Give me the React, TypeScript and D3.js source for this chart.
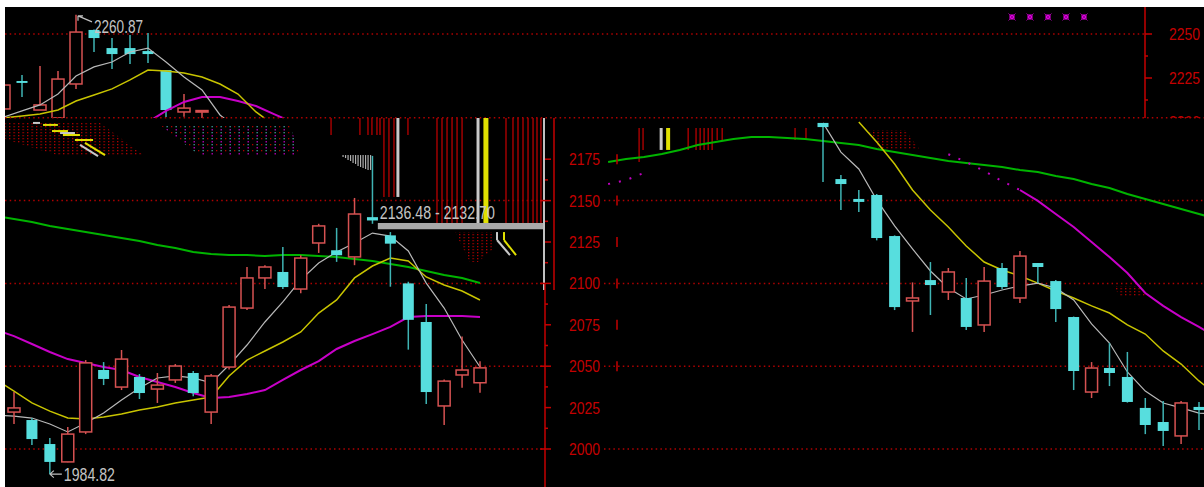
import React from "react";
import * as d3 from "d3";

type OHLC = [number, number, number, number]; // open, high, low, close
type Val = number | null;

// ---------- lower-left panel (slots 0..26) ----------
const leftCandles: OHLC[] = [
  [2022.3, 2034.4, 2015.1, 2024.8],
  [2017.5, 2018.7, 2002.4, 2006.0],
  [2003.0, 2006.6, 1984.82, 1992.2],
  [1992.2, 2013.3, 1992.0, 2009.0],
  [2010.3, 2053.7, 2009.0, 2052.0],
  [2047.7, 2052.5, 2038.6, 2042.3],
  [2037.4, 2059.8, 2035.6, 2054.3],
  [2043.5, 2045.3, 2030.2, 2033.8],
  [2036.2, 2045.9, 2027.8, 2038.6],
  [2041.7, 2051.3, 2039.9, 2050.1],
  [2045.9, 2047.1, 2031.9, 2033.8],
  [2022.3, 2045.3, 2015.1, 2044.1],
  [2049.5, 2087.0, 2048.0, 2085.7],
  [2085.1, 2109.9, 2083.9, 2103.3],
  [2103.3, 2111.0, 2096.6, 2109.9],
  [2106.9, 2122.0, 2096.6, 2097.8],
  [2096.6, 2117.0, 2094.0, 2115.3],
  [2124.4, 2136.0, 2118.4, 2134.7],
  [2120.0, 2133.5, 2113.0, 2117.0],
  [2116.0, 2151.6, 2111.0, 2141.9],
  [2140.0, 2177.0, 2136.0, 2138.0],
  [2129.0, 2131.0, 2098.0, 2124.0],
  [2100.0, 2101.0, 2060.0, 2078.0],
  [2076.7, 2087.6, 2027.2, 2034.4],
  [2026.0, 2042.0, 2014.5, 2041.0],
  [2044.7, 2068.0, 2037.0, 2047.7],
  [2040.0, 2053.0, 2034.0, 2049.0],
];
// moving averages, slots -1..26
const leftMA5 = [2020.5, 2019.9, 2018.7, 2015.1, 2010.3, 2015.7, 2021.7, 2029.6, 2036.8, 2042.9, 2044.1, 2042.9, 2039.9, 2050.7, 2062.8, 2076.7, 2088.8, 2102.1, 2112.3, 2119.0, 2124.4, 2130.4, 2128.6, 2119.6, 2100.2, 2085.1, 2065.8, 2049.5];
const leftMA10 = [2041.7, 2035.0, 2027.8, 2022.9, 2018.7, 2018.1, 2019.3, 2021.1, 2023.6, 2025.4, 2027.8, 2029.6, 2031.4, 2044.1, 2053.7, 2059.2, 2064.6, 2070.7, 2082.1, 2090.0, 2103.3, 2110.5, 2115.3, 2113.5, 2103.9, 2099.0, 2095.4, 2090.0];
const leftMA20 = [2071.9, 2068.2, 2063.4, 2058.6, 2054.3, 2051.9, 2049.5, 2047.7, 2043.5, 2040.5, 2037.4, 2033.8, 2030.8, 2031.4, 2033.2, 2035.6, 2041.7, 2047.7, 2053.1, 2060.4, 2065.2, 2069.4, 2073.7, 2079.7, 2080.3, 2080.3, 2080.3, 2079.7];
const leftMA60 = [2140.7, 2138.9, 2137.1, 2134.7, 2132.9, 2131.0, 2129.2, 2127.4, 2125.6, 2123.2, 2121.4, 2119.0, 2117.8, 2117.1, 2117.1, 2116.5, 2117.1, 2117.1, 2116.5, 2115.9, 2114.7, 2113.5, 2111.7, 2109.9, 2107.5, 2105.1, 2103.3, 2100.2];

// ---------- right panel (candles at slots 12..33, lines slots 0..34) ----------
const rightCandles: OHLC[] = [
  [2196.9, 2196.9, 2161.2, 2194.4],
  [2163.0, 2165.5, 2144.3, 2160.0],
  [2151.0, 2156.4, 2143.1, 2149.2],
  [2153.4, 2154.0, 2126.0, 2127.4],
  [2128.6, 2129.0, 2083.9, 2085.7],
  [2089.4, 2100.6, 2070.7, 2091.2],
  [2102.0, 2112.9, 2080.9, 2099.0],
  [2094.8, 2109.3, 2090.0, 2106.9],
  [2091.2, 2103.3, 2071.9, 2073.7],
  [2074.9, 2109.9, 2070.7, 2101.4],
  [2109.3, 2112.3, 2096.6, 2097.8],
  [2091.2, 2119.6, 2088.2, 2116.5],
  [2112.3, 2112.3, 2100.2, 2109.9],
  [2101.4, 2102.0, 2076.7, 2084.5],
  [2079.7, 2080.0, 2035.6, 2047.1],
  [2034.4, 2052.5, 2030.8, 2048.9],
  [2048.9, 2064.0, 2038.0, 2045.9],
  [2043.5, 2058.6, 2028.0, 2028.4],
  [2024.8, 2030.8, 2009.0, 2014.5],
  [2016.3, 2029.0, 2001.8, 2010.9],
  [2007.9, 2029.0, 2003.0, 2027.8],
  [2025.4, 2028.4, 2011.5, 2023.5],
];
const rightFirstSlot = 12;
const N = null;
const rightMA5: Val[] = [N, N, N, N, N, N, N, N, N, N, N, N, 2196.9, 2179.3, 2169.1, 2150.4, 2134.7, 2120.8, 2107.5, 2097.2, 2090.6, 2093.0, 2096.0, 2098.4, 2100.2, 2097.2, 2090.0, 2075.5, 2064.0, 2046.5, 2035.0, 2027.8, 2024.8, 2021.7, 2021.1];
const rightMA10: Val[] = [N, N, N, N, N, N, N, N, N, N, N, N, N, N, 2197.5, 2185.4, 2172.1, 2156.4, 2144.3, 2134.1, 2122.6, 2112.9, 2108.1, 2104.5, 2100.2, 2095.4, 2091.2, 2086.4, 2082.1, 2074.9, 2069.4, 2059.2, 2051.3, 2041.1, 2032.6];
const rightMA20: Val[] = [2160.0, 2162.4, 2166.7, N, N, N, N, N, N, N, N, N, N, N, N, N, N, N, N, 2178.0, 2173.3, 2167.9, 2161.8, 2156.4, 2149.8, 2141.9, 2134.1, 2125.0, 2115.9, 2106.3, 2094.2, 2086.4, 2079.7, 2073.7, 2067.6];
const rightMA60: Val[] = [2173.3, 2175.1, 2176.3, 2178.1, 2180.6, 2183.6, 2185.4, 2187.2, 2188.4, 2188.4, 2187.8, 2187.2, 2186.0, 2184.8, 2183.6, 2181.2, 2179.3, 2177.5, 2175.7, 2173.9, 2172.7, 2171.5, 2170.3, 2168.5, 2167.3, 2164.9, 2163.0, 2160.0, 2157.6, 2154.0, 2151.0, 2147.9, 2144.9, 2141.9, 2138.9];

// ---------- top panel (slots 0..) ----------
const topCandles: OHLC[] = [
  [2207.4, 2234.1, 2203.0, 2221.0],
  [2223.3, 2226.7, 2214.2, 2222.2],
  [2206.8, 2231.8, 2206.8, 2209.7],
  [2202.3, 2229.0, 2202.3, 2224.4],
  [2221.6, 2260.87, 2218.8, 2251.1],
  [2252.3, 2252.5, 2239.8, 2247.7],
  [2242.0, 2247.7, 2230.1, 2238.6],
  [2242.0, 2249.4, 2233.0, 2238.6],
  [2240.3, 2250.6, 2233.5, 2238.6],
  [2229.5, 2229.5, 2202.8, 2206.8],
  [2205.7, 2215.9, 2203.0, 2207.9],
  [2206.0, 2206.8, 2200.0, 2206.5],
];
const topMA5: Val[] = [2202.8, 2206.3, 2209.7, 2215.9, 2226.1, 2231.3, 2234.1, 2239.8, 2242.0, 2234.1, 2225.6, 2218.2, 2204.0, 2196.0];
const topMA10: Val[] = [2202.3, 2203.4, 2204.5, 2206.8, 2211.9, 2215.3, 2218.8, 2223.9, 2229.5, 2229.0, 2227.8, 2225.6, 2221.6, 2215.9, 2205.7, 2198.3];
const topMA20: Val[] = [N, N, N, N, N, N, N, N, 2200.0, 2206.3, 2211.4, 2214.2, 2214.2, 2211.9, 2209.1, 2204.5, 2200.0];
const topMarkerSlots = [56, 57, 58, 59, 60];

// ---------- axes / labels ----------
const lowTicks = [2000, 2025, 2050, 2075, 2100, 2125, 2150, 2175];
const lowGrid = [2000, 2050, 2100, 2150];
const lowMinor = [2012.5, 2037.5, 2062.5, 2087.5, 2112.5, 2137.5, 2162.5];
const topTicks = [2200, 2225, 2250];
const topMinor = [2212.5, 2237.5];
const rangeHigh = 2136.48;
const rangeLow = 2132.7;
const lowMark = 1984.82;
const highMark = 2260.87;

// ---------- redraw artefacts (slot, price) ----------
const glitchLeft: [number, number, string][] = [
  [17.69, 2189.6, "r"], [19.3, 2189.6, "r"], [19.75, 2189.6, "r"], [19.97, 2189.6, "r"], [20.25, 2189.6, "r"],
  [20.42, 2189.6, "r"], [20.64, 2152.2, "r"], [20.92, 2152.2, "r"], [21.2, 2152.2, "r"], [21.42, 2152.2, "g"],
  [21.98, 2189.6, "r"], [23.6, 2134.7, "r"], [23.88, 2134.7, "r"], [24.16, 2134.7, "r"], [24.44, 2134.7, "r"],
  [24.72, 2134.7, "r"], [25.0, 2134.7, "r"], [25.89, 2134.7, "g"], [26.33, 2134.7, "y"], [27.45, 2134.7, "r"],
  [27.84, 2134.7, "r"], [28.12, 2134.7, "r"], [28.4, 2134.7, "r"], [28.68, 2134.7, "r"], [28.96, 2134.7, "r"],
  [29.18, 2134.7, "r"], [29.4, 2134.7, "r"],
];
const glitchRight: [number, number, string][] = [
  [1.73, 2173.3, "r"], [1.95, 2180.6, "r"], [2.96, 2180.6, "g"], [3.35, 2180.6, "y"], [4.47, 2180.6, "r"],
  [4.91, 2180.6, "r"], [5.14, 2180.6, "r"], [5.36, 2180.6, "r"], [5.59, 2180.6, "r"], [5.81, 2180.6, "r"],
  [6.09, 2186.6, "r"], [6.37, 2186.6, "r"], [10.44, 2186.6, "r"], [11.05, 2186.6, "r"],
];
const hatchBottoms = [2176.3, 2175.7, 2174.5, 2173.9, 2172.7, 2172.1, 2170.9, 2170.3, 2169.7, 2169.1, 2168.5, 2168.5];
const hatchTop = 2177.5;
const hatchStart = 18.36;
const hatchStep = 0.1395;
const ghostLeft: [number, number][][] = [
  [[-0.5, 2196.9], [4.8, 2196.9], [7.31, 2176.9], [2.57, 2176.9], [-0.5, 2187.1]],
  [[8.15, 2195.7], [15.4, 2195.7], [15.96, 2176.9], [10.38, 2176.9]],
  [[24.6, 2131.0], [26.67, 2131.0], [26.67, 2120.2], [25.89, 2112.9], [25.44, 2112.9]],
];
const ghostRight: [number, number][][] = [
  [[14.51, 2192.6], [16.58, 2192.6], [17.42, 2180.6], [15.18, 2180.6]],
  [[28.2, 2098.4], [29.7, 2098.4], [30.26, 2092.4], [28.6, 2092.4]],
];
const ghostDashes: [number, number, number, number, string][] = [
  [1.62, 2195.7, 2.45, 2195.7, "y"], [2.12, 2192.0, 3.01, 2192.0, "y"], [2.73, 2189.6, 3.68, 2189.6, "y"],
  [3.4, 2186.6, 4.41, 2186.6, "y"], [1.06, 2196.9, 1.45, 2196.9, "g"], [2.57, 2190.8, 3.4, 2190.8, "g"],
  [3.96, 2184.8, 5.08, 2177.5, "y"], [3.68, 2183.6, 4.69, 2176.9, "g"],
  [26.95, 2131.0, 26.95, 2126.2, "g"], [26.95, 2126.2, 27.67, 2117.1, "g"],
  [27.34, 2131.0, 27.34, 2126.2, "y"], [27.34, 2126.2, 28.01, 2117.1, "y"],
];

const UP = "#d65252";
const DOWN = "#57dede";
const DOWN_WICK = "#3fb4b4";
const AXIS = "#c40000";
const GRID = "#b00000";
const FONT = "'Liberation Sans', Arial, sans-serif";
const glitchColor: Record<string, string> = { r: "#a00000", g: "#c8c8c8", y: "#e0e000" };

function Candle({ x, d, y, w }: { x: number; d: OHLC; y: d3.ScaleLinear<number, number>; w: number }) {
  const [o, h, l, c] = d;
  const top = y(Math.max(o, c));
  const bot = y(Math.min(o, c));
  const bh = Math.max(bot - top, 1.5);
  if (c >= o) {
    return (
      <g>
        <line x1={x} x2={x} y1={y(h)} y2={top} stroke={UP} strokeWidth={1.5} />
        <line x1={x} x2={x} y1={top + bh} y2={y(l)} stroke={UP} strokeWidth={1.5} />
        <rect x={x - w / 2} y={top} width={w} height={bh} fill="#000" stroke={UP} strokeWidth={1.5} />
      </g>
    );
  }
  return (
    <g>
      <line x1={x} x2={x} y1={y(h)} y2={y(l)} stroke={DOWN_WICK} strokeWidth={1.5} />
      <rect x={x - w / 2 + 0.5} y={top} width={w - 1} height={bh} fill={DOWN} />
    </g>
  );
}

export default function App() {
  const yLow = d3.scaleLinear().domain([2000, 2150]).range([449, 200.6]);
  const yTop = d3.scaleLinear().domain([2200, 2250]).range([122, 34]);
  const xLeft = d3.scaleLinear().domain([0, 26]).range([14, 480]);
  const xRight = d3.scaleLinear().domain([12, 33]).range([823, 1199]);
  const xTop = d3.scaleLinear().domain([0, 11]).range([4, 202]);

  const mkLine = (xs: (i: number) => number, ys: d3.ScaleLinear<number, number>, offset: number) =>
    d3
      .line<Val>()
      .defined((v) => v != null)
      .x((_, i) => xs(i + offset))
      .y((v) => ys(v as number));

  const leftLine = mkLine(xLeft, yLow, -1);
  const rightLine = mkLine(xRight, yLow, 0);
  const topLine = mkLine(xTop, yTop, 0);

  const poly = (pts: [number, number][], xs: (v: number) => number) =>
    pts.map(([s, p]) => `${xs(s)},${yLow(p)}`).join(" ");

  const rightMA20Dotted = rightMA20.map((v, i) => (i <= 23 ? v : null));
  const rightMA20Solid = rightMA20.map((v, i) => (i >= 23 ? v : null));

  const axisX = 545;
  const lblX = 569;

  return (
    <svg
      width={1199}
      height={480}
      style={{ position: "absolute", left: 5, top: 7, display: "block", background: "#000" }}
    >
      <defs>
        <clipPath id="clipTop">
          <rect x={5} y={7} width={1199} height={111} />
        </clipPath>
        <clipPath id="clipLeft">
          <rect x={5} y={118} width={540} height={369} />
        </clipPath>
        <clipPath id="clipRight">
          <rect x={548} y={118} width={656} height={369} />
        </clipPath>
        <pattern id="dotsRed" width={4.5} height={3} patternUnits="userSpaceOnUse">
          <rect width={1.3} height={1.3} fill="#b00000" />
        </pattern>
        <pattern id="dotsMix" width={9} height={6} patternUnits="userSpaceOnUse">
          <rect width={1.3} height={1.3} fill="#b00000" />
          <rect x={4.5} y={3} width={1.5} height={1.5} fill="#a000a0" />
          <rect x={4.5} width={1.3} height={1.3} fill="#40a0a0" />
        </pattern>
      </defs>
      <g transform="translate(-5,-7)" fontFamily={FONT}>
        <rect x={5} y={7} width={1199} height={480} fill="#000" />

        {/* top panel */}
        <g clipPath="url(#clipTop)">
          <line x1={5} x2={1145} y1={yTop(2250)} y2={yTop(2250)} stroke={GRID} strokeWidth={1.5} strokeDasharray="1.5 3.2" />
          {topCandles.map((d, i) => (
            <Candle key={i} x={xTop(i)} d={d} y={yTop} w={12} />
          ))}
          <path d={topLine(topMA20) || ""} fill="none" stroke="#c800c8" strokeWidth={2} />
          <path d={topLine(topMA10) || ""} fill="none" stroke="#c8c400" strokeWidth={1.5} />
          <path d={topLine(topMA5) || ""} fill="none" stroke="#b8b8b8" strokeWidth={1.2} />
          {topMarkerSlots.map((s) => (
            <g key={s} transform={`translate(${xTop(s)},17)`}>
              <rect x={-2.5} y={-2.5} width={5} height={5} fill="#e000e0" />
              <path d="M-3.5,-3.5L3.5,3.5M3.5,-3.5L-3.5,3.5" stroke="#a000a0" strokeWidth={1} />
            </g>
          ))}
          {/* top axis */}
          <line x1={1145} x2={1145} y1={7} y2={118} stroke={AXIS} strokeWidth={1.5} />
          {topTicks.map((t) => (
            <g key={t}>
              <line x1={1145} x2={1152} y1={yTop(t)} y2={yTop(t)} stroke={AXIS} strokeWidth={1.5} />
              <text x={1169} y={yTop(t) + 6} fontSize={16} fill={AXIS} textLength={31} lengthAdjust="spacingAndGlyphs">
                {t}
              </text>
            </g>
          ))}
          {topMinor.map((t) => (
            <line key={t} x1={1145} x2={1148} y1={yTop(t)} y2={yTop(t)} stroke={AXIS} strokeWidth={1.5} />
          ))}
          {/* high marker */}
          <path
            d={`M${xTop(4) + 2},${yTop(highMark) + 1}L${xTop(4) + 16},${yTop(highMark) + 7}M${xTop(4) + 2},${yTop(highMark) + 1}l0,5M${xTop(4) + 2},${yTop(highMark) + 1}l5,0`}
            stroke="#c0c0c0"
            strokeWidth={1.2}
            fill="none"
          />
          <text x={xTop(4) + 18} y={yTop(highMark) + 18} fontSize={18} fill="#c4c4c4" textLength={49} lengthAdjust="spacingAndGlyphs">
            {highMark.toFixed(2)}
          </text>
        </g>

        {/* 2200 gridline across */}
        <line x1={5} x2={1204} y1={yLow(2200)} y2={yLow(2200)} stroke={GRID} strokeWidth={1.5} strokeDasharray="1.5 3.2" />

        {/* lower-left panel */}
        <g clipPath="url(#clipLeft)">
          {lowGrid.map((g) => (
            <line key={g} x1={5} x2={545} y1={yLow(g)} y2={yLow(g)} stroke={GRID} strokeWidth={1.5} strokeDasharray="1.5 3.2" />
          ))}
          <polygon points={poly(ghostLeft[0], xLeft)} fill="url(#dotsRed)" />
          <polygon points={poly(ghostLeft[1], xLeft)} fill="url(#dotsMix)" />
          <polygon points={poly(ghostLeft[2], xLeft)} fill="url(#dotsRed)" />
          {ghostDashes.map(([s1, p1, s2, p2, k], i) => (
            <line key={i} x1={xLeft(s1)} x2={xLeft(s2)} y1={yLow(p1)} y2={yLow(p2)} stroke={glitchColor[k]} strokeWidth={2} />
          ))}
          {glitchLeft.map(([s, p, k], i) => (
            <line key={i} x1={xLeft(s)} x2={xLeft(s)} y1={118} y2={yLow(p)} stroke={glitchColor[k]} strokeWidth={k === "y" ? 5 : k === "g" ? 3 : 1.5} />
          ))}
          {hatchBottoms.map((b, i) => (
            <line
              key={i}
              x1={xLeft(hatchStart + i * hatchStep)}
              x2={xLeft(hatchStart + i * hatchStep)}
              y1={yLow(hatchTop)}
              y2={yLow(b)}
              stroke="#b0b0b0"
              strokeWidth={1.2}
            />
          ))}
          <path d={leftLine(leftMA60) || ""} fill="none" stroke="#00b400" strokeWidth={2} />
          <path d={leftLine(leftMA20) || ""} fill="none" stroke="#c800c8" strokeWidth={2} />
          <path d={leftLine(leftMA10) || ""} fill="none" stroke="#c8c400" strokeWidth={1.5} />
          <path d={leftLine(leftMA5) || ""} fill="none" stroke="#b8b8b8" strokeWidth={1.2} />
          {leftCandles.map((d, i) => (
            <Candle key={i} x={xLeft(i)} d={d} y={yLow} w={12} />
          ))}
          {/* range band */}
          <rect x={xLeft(20.3)} y={yLow(rangeHigh)} width={545 - xLeft(20.3)} height={yLow(rangeLow) - yLow(rangeHigh)} fill="#a8a8a8" />
          <text x={xLeft(20.3) + 2} y={yLow(rangeHigh) - 4} fontSize={18} fill="#c4c4c4" textLength={115} lengthAdjust="spacingAndGlyphs">
            {`${rangeHigh.toFixed(2)} - ${rangeLow.toFixed(2)}`}
          </text>
          {/* low marker */}
          <path
            d={`M${xLeft(2)},${yLow(lowMark)}L${xLeft(2) + 12},${yLow(lowMark)}M${xLeft(2)},${yLow(lowMark)}l4,-3.5M${xLeft(2)},${yLow(lowMark)}l4,3.5`}
            stroke="#c0c0c0"
            strokeWidth={1.2}
            fill="none"
          />
          <text x={xLeft(2) + 14} y={yLow(lowMark) + 7} fontSize={18} fill="#c4c4c4" textLength={51} lengthAdjust="spacingAndGlyphs">
            {lowMark.toFixed(2)}
          </text>
        </g>

        {/* right panel */}
        <g clipPath="url(#clipRight)">
          {lowGrid.map((g) => (
            <line key={g} x1={604} x2={1204} y1={yLow(g)} y2={yLow(g)} stroke={GRID} strokeWidth={1.5} strokeDasharray="1.5 3.2" />
          ))}
          {ghostRight.map((pts, i) => (
            <polygon key={i} points={poly(pts, xRight)} fill="url(#dotsRed)" />
          ))}
          {glitchRight.map(([s, p, k], i) => (
            <line key={i} x1={xRight(s)} x2={xRight(s)} y1={128} y2={yLow(p)} stroke={glitchColor[k]} strokeWidth={k === "y" ? 4 : k === "g" ? 3 : 1.5} />
          ))}
          <path d={rightLine(rightMA60) || ""} fill="none" stroke="#00b400" strokeWidth={2} />
          <path d={rightLine(rightMA20Dotted) || ""} fill="none" stroke="#c000c0" strokeWidth={2} strokeDasharray="2 9" />
          <path d={rightLine(rightMA20Solid) || ""} fill="none" stroke="#c800c8" strokeWidth={2} />
          <path d={rightLine(rightMA10) || ""} fill="none" stroke="#c8c400" strokeWidth={1.5} />
          <path d={rightLine(rightMA5) || ""} fill="none" stroke="#b8b8b8" strokeWidth={1.2} />
          {rightCandles.map((d, i) => (
            <Candle key={i} x={xRight(i + rightFirstSlot)} d={d} y={yLow} w={12} />
          ))}
          {/* axis labels of lower panel */}
          {lowTicks.map((t) => (
            <g key={t}>
              <text x={lblX} y={yLow(t) + 6} fontSize={16} fill={AXIS} textLength={31} lengthAdjust="spacingAndGlyphs">
                {t}
              </text>
              {t >= 2050 && <line x1={617} x2={617} y1={yLow(t) - 5} y2={yLow(t) + 5} stroke={AXIS} strokeWidth={1.5} />}
            </g>
          ))}
        </g>

        {/* lower axis */}
        <line x1={544} x2={544} y1={118} y2={290} stroke="#c0c0c0" strokeWidth={2} />
        <line x1={554} x2={554} y1={118} y2={290} stroke={AXIS} strokeWidth={1.5} />
        <line x1={axisX} x2={axisX} y1={283} y2={487} stroke={AXIS} strokeWidth={1.5} />
        {lowTicks.map((t) => (
          <line key={t} x1={t % 50 === 0 ? 540 : axisX} x2={551} y1={yLow(t)} y2={yLow(t)} stroke={AXIS} strokeWidth={1.5} />
        ))}
        {lowMinor.map((t) => (
          <line key={t} x1={axisX} x2={548} y1={yLow(t)} y2={yLow(t)} stroke={AXIS} strokeWidth={1.5} />
        ))}
      </g>
    </svg>
  );
}
